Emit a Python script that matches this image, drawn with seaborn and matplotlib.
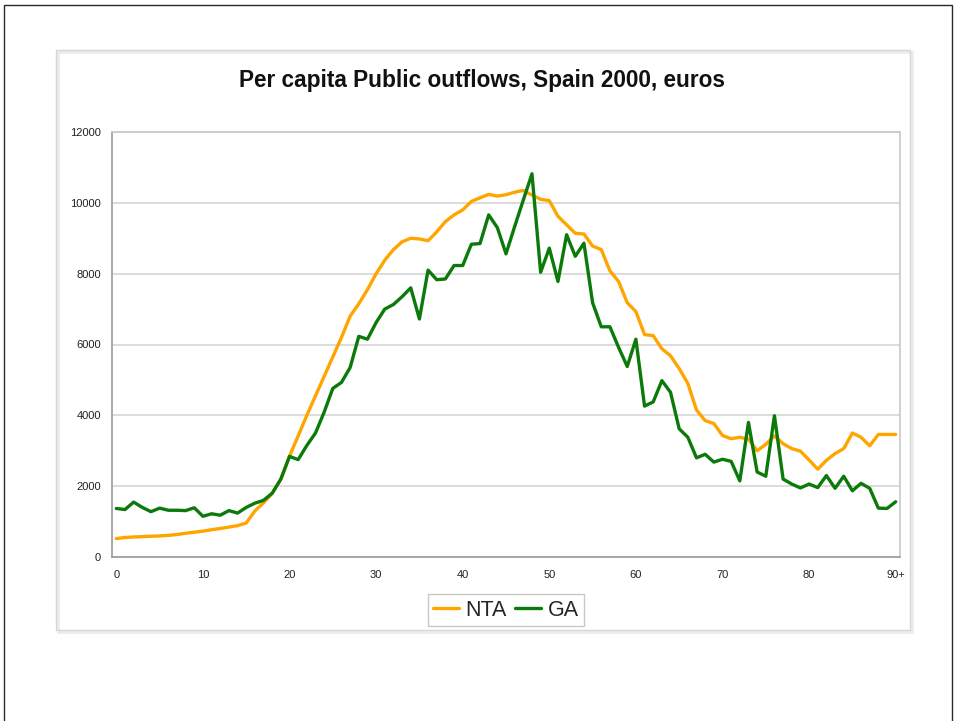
import matplotlib
matplotlib.use("Agg")
import matplotlib.pyplot as plt
import matplotlib.ticker as mtick
from matplotlib.patches import Rectangle
import pandas as pd
import seaborn as sns

# ── data ────────────────────────────────────────────────────────────────────
AGES = list(range(91))
NTA = [520, 550, 565, 575, 585, 595, 610, 635, 670, 700,
       730, 770, 805, 845, 885, 960, 1300, 1530, 1800, 2200,
       2850, 3420, 4000, 4550, 5100, 5650, 6200, 6800, 7150, 7550,
       8000, 8380, 8680, 8900, 9000, 8980, 8930, 9180, 9470, 9660,
       9800, 10040, 10140, 10240, 10190, 10230, 10300, 10350, 10220, 10100,
       10060, 9620, 9380, 9140, 9120, 8780, 8680, 8080, 7780, 7180,
       6930, 6280, 6250, 5880, 5680, 5320, 4900, 4150, 3850, 3770,
       3430, 3340, 3380, 3330, 3000, 3180, 3420, 3200, 3060, 2990,
       2740, 2480, 2730, 2920, 3060, 3500, 3380, 3140, 3460, 3460,
       3460]
GA = [1370, 1340, 1550, 1400, 1280, 1380, 1320, 1320, 1310, 1390,
      1150, 1220, 1180, 1310, 1240, 1400, 1520, 1600, 1800, 2200,
      2840, 2750, 3150, 3500, 4090, 4760, 4930, 5350, 6230, 6150,
      6620, 7000, 7130, 7350, 7600, 6720, 8100, 7830, 7850, 8230,
      8230, 8830, 8850, 9660, 9300, 8560, 9330, 10080, 10820, 8040,
      8720, 7780, 9100, 8490, 8860, 7180, 6500, 6500, 5920, 5380,
      6150, 4260, 4380, 4980, 4650, 3620, 3380, 2800, 2900, 2680,
      2760, 2700, 2150, 3800, 2400, 2280, 3990, 2200, 2060, 1950,
      2060, 1960, 2300, 1940, 2280, 1870, 2080, 1940, 1380, 1370,
      1560]

SERIES = ["NTA", "GA"]
COLORS = {"NTA": "#ffa500", "GA": "#0b7a0b"}
X_TICKS = [0, 10, 20, 30, 40, 50, 60, 70, 80, 90]
X_LABELS = ["0", "10", "20", "30", "40", "50", "60", "70", "80", "90+"]
Y_TICKS = [0, 2000, 4000, 6000, 8000, 10000, 12000]
TITLE = "Per capita Public outflows, Spain 2000, euros"

sns.set_theme(style="whitegrid")
plt.rcParams["font.family"] = ["Liberation Sans", "DejaVu Sans"]

df = pd.DataFrame({
    "age": AGES * 2,
    "value": NTA + GA,
    "series": ["NTA"] * len(NTA) + ["GA"] * len(GA),
})

W, H = 960, 721
fig = plt.figure(figsize=(W / 100, H / 100), dpi=100)
fig.patch.set_facecolor("white")

# outer page border and inner chart frame
fig.patches.append(Rectangle((4 / W, -0.05), (952 - 4) / W, 1.05 - 5 / H,
                             transform=fig.transFigure, fill=False,
                             edgecolor="#2a2a2a", lw=1.0))
fig.patches.append(Rectangle((58 / W, 1 - 632 / H), (910 - 56) / W, (632 - 52) / H,
                             transform=fig.transFigure, fill=False,
                             edgecolor="#ececec", lw=2.0))
fig.patches.append(Rectangle((56 / W, 1 - 630 / H), (910 - 56) / W, (630 - 50) / H,
                             transform=fig.transFigure, fill=False,
                             edgecolor="#d6d6d6", lw=1.0))

ax = fig.add_axes([112 / W, 1 - 557 / H, (900 - 112) / W, (557 - 132) / H])
sns.lineplot(data=df, x="age", y="value", hue="series", hue_order=SERIES,
             palette=COLORS, linewidth=2.4, ax=ax)

ax.set_xlim(-0.5, 90.5)
ax.set_ylim(0, 12000)
ax.set_xticks(X_TICKS)
ax.set_xticklabels(X_LABELS)
ax.xaxis.set_minor_locator(mtick.MultipleLocator(1))
ax.set_yticks(Y_TICKS)
ax.set_xlabel("")
ax.set_ylabel("")

ax.grid(axis="x", visible=False)
ax.grid(axis="y", color="#d9d9d9", lw=1.3)
for side in ["left", "bottom"]:
    ax.spines[side].set_color("#9a9a9a")
    ax.spines[side].set_linewidth(1.2)
for side in ["top", "right"]:
    ax.spines[side].set_color("#c8c8c8")
    ax.spines[side].set_linewidth(1.2)

ax.tick_params(axis="both", which="major", labelsize=8, labelcolor="#222222",
               length=3, width=0.8, color="#9a9a9a", direction="out", pad=5)
ax.tick_params(axis="x", which="minor", length=3, width=0.8,
               color="#9a9a9a", direction="out")
ax.tick_params(axis="x", which="major", pad=6)

fig.text(482 / W, 1 - 80 / H, TITLE, ha="center", va="center",
         fontsize=16.3, fontweight="bold", color="#111111")

handles, labels = ax.get_legend_handles_labels()
ax.legend(handles, labels, loc="center", bbox_to_anchor=(506 / W, 1 - 610 / H),
          bbox_transform=fig.transFigure, ncol=2, frameon=True, fancybox=False,
          edgecolor="#c8c8c8", framealpha=1, fontsize=15.5, handlelength=1.2,
          handletextpad=0.3, columnspacing=0.4, borderpad=0.25, title=None)

plt.savefig("out.png", dpi=100)
plt.close()
